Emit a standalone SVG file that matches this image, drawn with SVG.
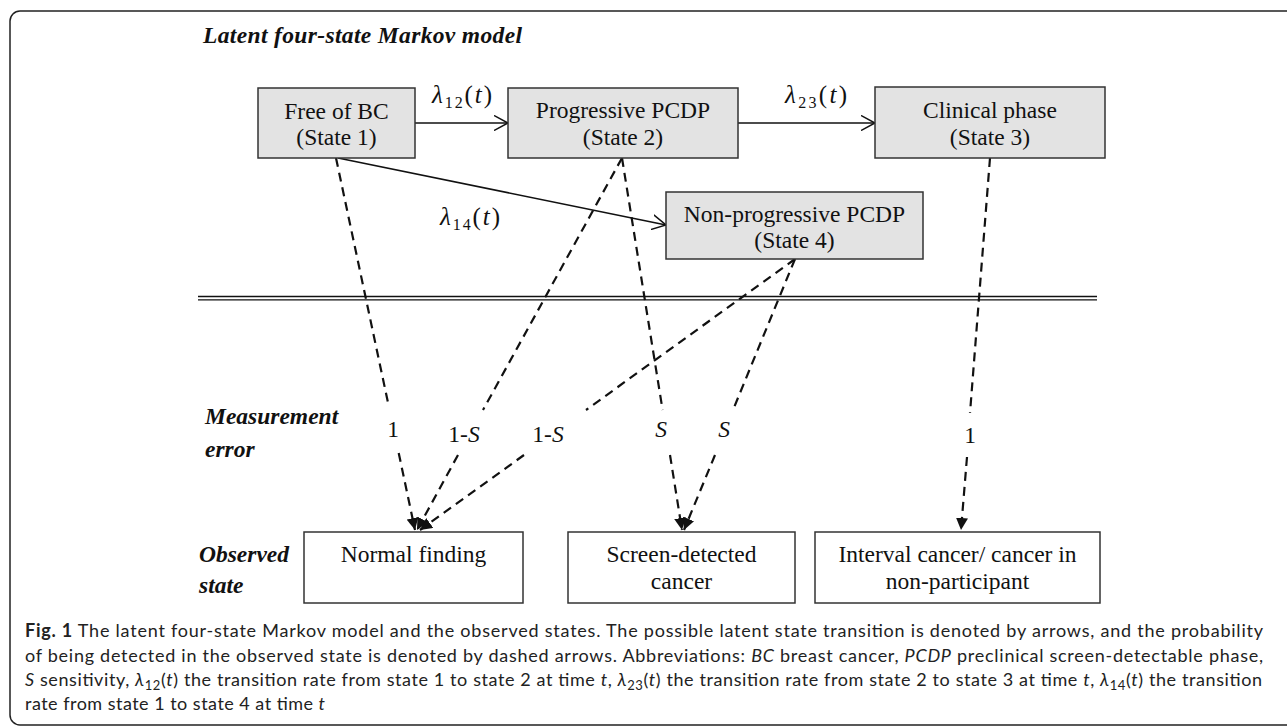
<svg xmlns="http://www.w3.org/2000/svg" width="1287" height="727" viewBox="0 0 1287 727">
<style>
.frame{fill:none;stroke:#222;stroke-width:1.5}
.latent{fill:#e3e3e3;stroke:#333;stroke-width:1.5}
.obs{fill:#fff;stroke:#333;stroke-width:1.5}
.t{font-family:"Liberation Serif","Times New Roman",serif;font-size:23.5px;fill:#111;text-anchor:middle}
.lbl{font-family:"Liberation Serif","Times New Roman",serif;font-size:23.5px;fill:#111;font-weight:bold;font-style:italic}
.math{font-family:"Liberation Serif","Times New Roman",serif;font-size:25px;fill:#111}
.prob{font-family:"Liberation Serif","Times New Roman",serif;font-size:23.5px;fill:#111;text-anchor:middle}
.solid{fill:none;stroke:#111;stroke-width:1.6}
.dash{fill:none;stroke:#111;stroke-width:2.2;stroke-dasharray:9,6}
.cap{font-family:Lato,"Open Sans",sans-serif;font-size:18px;fill:#222}
.dbl{stroke:#111;stroke-width:1.3}
</style>
<defs>
<marker id="open" markerWidth="16" markerHeight="16" refX="14" refY="8" orient="auto" markerUnits="userSpaceOnUse"><path d="M0,0.5 L14,8 L0,15.5" fill="none" stroke="#111" stroke-width="1.5"/></marker>
<marker id="fill" markerWidth="14" markerHeight="12" refX="12" refY="6" orient="auto" markerUnits="userSpaceOnUse"><path d="M0,0 L12,6 L0,12 Z" fill="#111"/></marker>
</defs>
<rect width="1287" height="727" fill="#fff"/>
<rect class="frame" x="10" y="11" width="1300" height="714" rx="10"/>

<text class="lbl" x="203" y="43" textLength="319">Latent four-state Markov model</text>
<text class="lbl" x="205" y="424">Measurement</text>
<text class="lbl" x="205" y="457">error</text>
<text class="lbl" x="199" y="562">Observed</text>
<text class="lbl" x="199" y="593">state</text>

<line class="dbl" x1="198" y1="296.5" x2="1097" y2="296.5"/>
<line class="dbl" x1="198" y1="299.8" x2="1097" y2="299.8"/>

<g id="connectors">
<line class="solid" x1="415" y1="123" x2="508" y2="123" marker-end="url(#open)"/>
<line class="solid" x1="738" y1="123" x2="875" y2="123" marker-end="url(#open)"/>
<line class="solid" x1="338" y1="158" x2="666" y2="225" marker-end="url(#open)"/>
<path class="dash" d="M336,158 L388.5,405 M398.7,453 L415,530" marker-end="url(#fill)"/>
<path class="dash" d="M622,158 L483,410 M458,455 L417,530" marker-end="url(#fill)"/>
<path class="dash" d="M795,259 L586,410 M524,455 L420,530" marker-end="url(#fill)"/>
<path class="dash" d="M622,158 L662.6,410 M670,455 L682,530" marker-end="url(#fill)"/>
<path class="dash" d="M795,259 L733,410 M715,455 L684,530" marker-end="url(#fill)"/>
<path class="dash" d="M990,158 L970,413 M967,457 L961,530" marker-end="url(#fill)"/>
<text class="math" x="432" y="103" textLength="60"><tspan font-style="italic">λ</tspan><tspan font-size="16" dy="5">12</tspan><tspan dy="-5">(</tspan><tspan font-style="italic">t</tspan>)</text>
<text class="math" x="785" y="103" textLength="62"><tspan font-style="italic">λ</tspan><tspan font-size="16" dy="5">23</tspan><tspan dy="-5">(</tspan><tspan font-style="italic">t</tspan>)</text>
<text class="math" x="440" y="225" textLength="60"><tspan font-style="italic">λ</tspan><tspan font-size="16" dy="5">14</tspan><tspan dy="-5">(</tspan><tspan font-style="italic">t</tspan>)</text>
<text class="prob" x="393" y="437">1</text>
<text class="prob" x="464" y="442">1-<tspan font-style="italic">S</tspan></text>
<text class="prob" x="548" y="442">1-<tspan font-style="italic">S</tspan></text>
<text class="prob" x="661" y="437" font-style="italic">S</text>
<text class="prob" x="724" y="437" font-style="italic">S</text>
<text class="prob" x="970" y="443">1</text>
</g>

<g id="state1">
<rect class="latent" x="258" y="88" width="157" height="70"/>
<text class="t" x="336.5" y="119">Free of BC</text>
<text class="t" x="336.5" y="145">(State 1)</text>
</g>
<g id="state2">
<rect class="latent" x="508" y="88" width="230" height="70"/>
<text class="t" x="623" y="118">Progressive PCDP</text>
<text class="t" x="623" y="145">(State 2)</text>
</g>
<g id="state3">
<rect class="latent" x="875" y="87" width="230" height="71"/>
<text class="t" x="990" y="118">Clinical phase</text>
<text class="t" x="990" y="145">(State 3)</text>
</g>
<g id="state4">
<rect class="latent" x="666" y="192" width="257" height="67"/>
<text class="t" x="794.5" y="222">Non-progressive PCDP</text>
<text class="t" x="794.5" y="248">(State 4)</text>
</g>
<g id="normal">
<rect class="obs" x="304" y="532" width="219" height="71"/>
<text class="t" x="413.5" y="562">Normal finding</text>
</g>
<g id="screen">
<rect class="obs" x="568" y="532" width="227" height="71"/>
<text class="t" x="681.5" y="562">Screen-detected</text>
<text class="t" x="681.5" y="589">cancer</text>
</g>
<g id="interval">
<rect class="obs" x="815" y="532" width="285" height="71"/>
<text class="t" x="957.5" y="562">Interval cancer/ cancer in</text>
<text class="t" x="957.5" y="589">non-participant</text>
</g>

<g id="caption">
<text class="cap" x="25" y="637" textLength="1238"><tspan font-weight="bold">Fig. 1</tspan> The latent four-state Markov model and the observed states. The possible latent state transition is denoted by arrows, and the probability</text>
<text class="cap" x="25" y="661.5" textLength="1238">of being detected in the observed state is denoted by dashed arrows. Abbreviations: <tspan font-style="italic">BC</tspan> breast cancer, <tspan font-style="italic">PCDP</tspan> preclinical screen-detectable phase,</text>
<text class="cap" x="25" y="686" textLength="1237"><tspan font-style="italic">S</tspan> sensitivity, <tspan font-style="italic">λ</tspan><tspan font-size="13" dy="4">12</tspan><tspan dy="-4">(</tspan><tspan font-style="italic">t</tspan>) the transition rate from state 1 to state 2 at time <tspan font-style="italic">t</tspan>, <tspan font-style="italic">λ</tspan><tspan font-size="13" dy="4">23</tspan><tspan dy="-4">(</tspan><tspan font-style="italic">t</tspan>) the transition rate from state 2 to state 3 at time <tspan font-style="italic">t</tspan>, <tspan font-style="italic">λ</tspan><tspan font-size="13" dy="4">14</tspan><tspan dy="-4">(</tspan><tspan font-style="italic">t</tspan>) the transition</text>
<text class="cap" x="25" y="710" textLength="300">rate from state 1 to state 4 at time <tspan font-style="italic">t</tspan></text>
</g>
</svg>
